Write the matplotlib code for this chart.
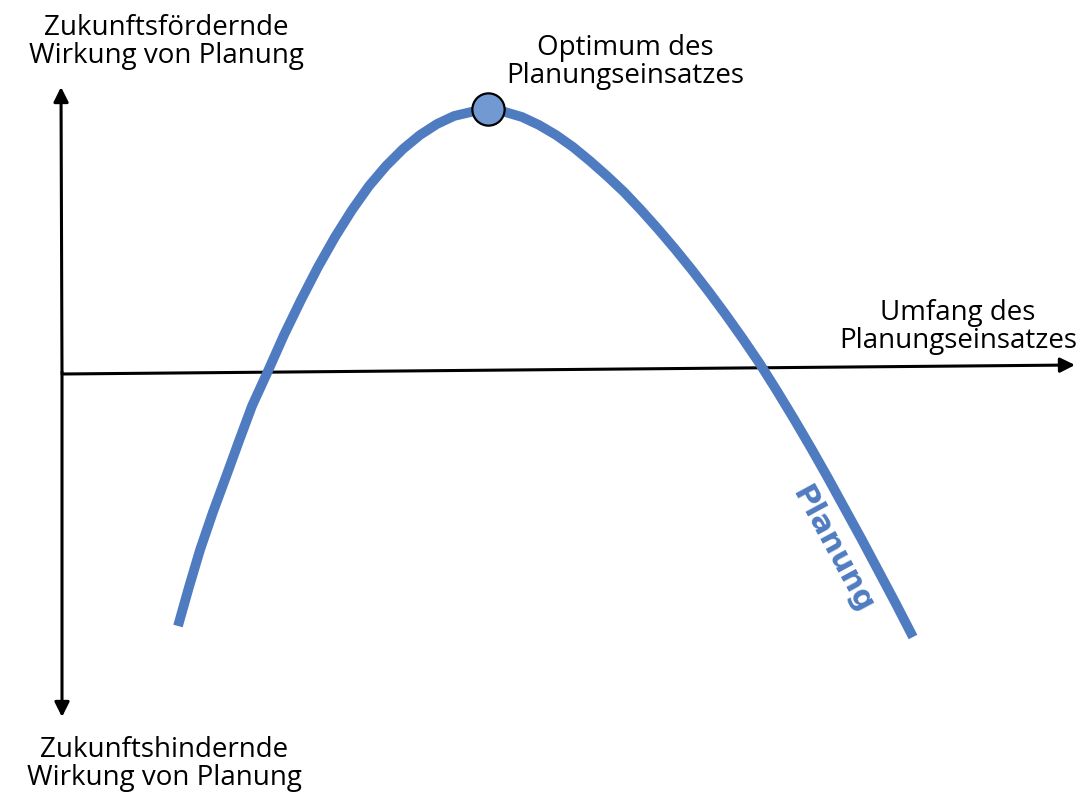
import numpy as np
import matplotlib.pyplot as plt

# ---------------- DATA ----------------
# origin = where the two axes cross, x to the right, y upwards
planung_x = [116, 127, 138, 151, 165, 177, 190, 206, 222, 239, 256, 273,
             290, 307, 324, 341, 358, 375, 392, 409, 426,
             443, 460, 477, 494, 511, 528, 545, 562, 579, 596, 613, 630,
             647, 664, 681, 698, 715, 732, 749, 766, 783, 800, 817, 834, 851]
planung_y = [-254, -215, -178, -140, -102, -69, -34, 1, 37, 72, 105, 135,
             162, 186, 206, 223, 237, 248, 256, 260, 262,
             260, 255, 247, 237, 225, 211, 196, 180, 162, 143, 123, 102,
             80, 57, 33, 8, -19, -47, -76, -106, -137, -168, -200, -232, -265]

optimum_x = [426]
optimum_y = [263]

label_top = "Zukunftsfördernde\nWirkung von Planung"
label_bottom = "Zukunftshindernde\nWirkung von Planung"
label_x = "Umfang des\nPlanungseinsatzes"
label_opt = "Optimum des\nPlanungseinsatzes"
label_curve = "Planung"

# ---------------- STYLE ----------------
BLUE = "#4f7cc0"
BLUE_LIGHT = "#7399d3"
TEXT_FONT = ["Open Sans", "DejaVu Sans"]
TEXT_KW = dict(ha="center", va="center", fontsize=20, family=TEXT_FONT,
               linespacing=1.0)

# ---------------- PLOT ----------------
fig = plt.figure(figsize=(10.83, 7.93), dpi=100)
ax = fig.add_axes([0, 0, 1, 1])
ax.set_xlim(-62, 1021)
ax.set_ylim(-421, 372)
ax.axis("off")

arrow = dict(arrowstyle="-|>", color="black", lw=2.2, mutation_scale=22,
             shrinkA=0, shrinkB=0)

# vertical axis, arrows both ways
ax.annotate("", xy=(-1, 285), xytext=(0, 0), arrowprops=arrow)
ax.annotate("", xy=(0, -345), xytext=(0, 0), arrowprops=arrow)
# horizontal axis (slightly tilted like the original)
ax.annotate("", xy=(1013, 7), xytext=(0, -2), arrowprops=arrow)

# curve
ax.plot(planung_x, planung_y, color=BLUE, lw=7, solid_capstyle="butt",
        solid_joinstyle="round", zorder=3)
ax.scatter(optimum_x, optimum_y, s=540, color=BLUE_LIGHT, edgecolor="black",
           linewidth=1.6, zorder=4)

# labels
ax.text(104, 330, label_top, **TEXT_KW)
ax.text(102, -392, label_bottom, **TEXT_KW)
ax.text(563, 310, label_opt, **TEXT_KW)
ax.text(896, 45, label_x, **TEXT_KW)
ax.text(770, -178, label_curve, ha="center", va="center", fontsize=22,
        fontweight="bold", color=BLUE, rotation=-61.5, family="DejaVu Sans",
        rotation_mode="anchor")

fig.savefig("out.png", dpi=100)
